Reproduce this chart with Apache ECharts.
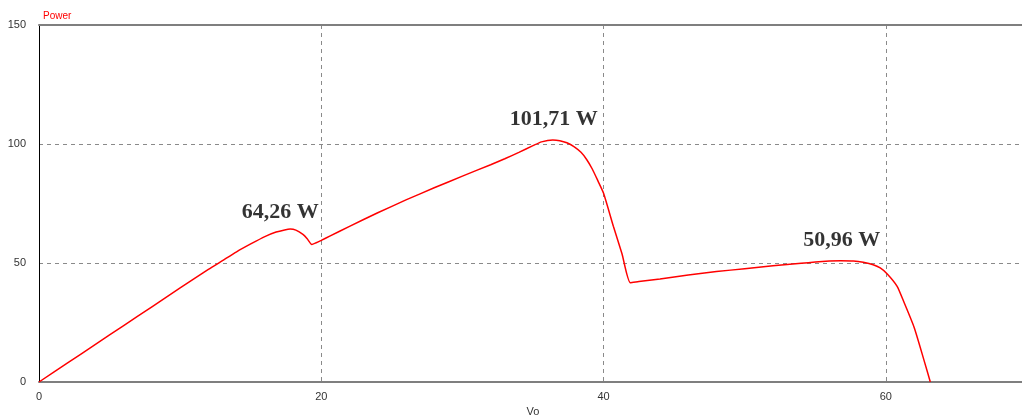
<!DOCTYPE html>
<html>
<head>
<meta charset="utf-8">
<script src="https://cdn.jsdelivr.net/npm/echarts@6/dist/echarts.min.js"></script>
<style>
  html, body { margin: 0; padding: 0; background: #fff; }
  #chart { width: 1022px; height: 416px; }
</style>
</head>
<body>
<div id="chart"></div>
<script>
// P-V curve of a partially shaded PV string (output voltage vs power)
const voltage = [0, 2, 4, 6, 8, 10, 12, 13, 14, 15, 16, 16.8, 17.4, 17.8, 18.2, 18.7, 19, 19.33, 19.6, 20, 20.6,
  22, 24, 26, 28, 30, 32, 33, 34, 35, 35.6, 36.4, 36.9, 37.4, 37.9, 38.4, 38.8, 39.2, 39.6, 40, 40.7, 41.3, 41.9,
  42.5, 44, 46, 48, 50, 52, 54, 55, 56, 56.8, 57.7, 58.4, 59.1, 59.6, 60.1, 60.8, 61.25, 62, 62.7, 63.15];
const power = [0, 7.9, 15.8, 23.7, 31.6, 39.5, 47.3, 51.0, 54.7, 58.0, 61.1, 63.0, 63.9, 64.26, 63.8, 62, 60.2, 57.8, 58.4, 59.5, 61.3,
  65.4, 71.1, 76.5, 81.6, 86.5, 91.3, 93.8, 96.5, 99.3, 100.9, 101.71, 101.4, 100.5, 98.9, 96.5, 93.5, 89.5, 84.5, 79.3, 65.3, 54, 41.7,
  42.2, 43.3, 45.0, 46.4, 47.6, 48.8, 49.9, 50.4, 50.8, 50.96, 50.85, 50.3, 49.3, 47.9, 45.4, 40.2, 34, 23, 9.2, 0];

// Local maxima annotated on the curve
const peakVoltage = [17.8, 36.4, 56.8];
const peakPower = [64.26, 101.71, 50.96];

const xTicks = [0, 20, 40, 60];
const yTicks = [0, 50, 100, 150];

const curve = voltage.map((v, i) => [v, power[i]]);
const labelShift = [[-10, 2], [1, -2], [1, -1]];
const peaks = peakVoltage.map((v, i) => ({
  value: [v, peakPower[i]],
  label: { offset: labelShift[i] }
}));

const chart = echarts.init(document.getElementById('chart'), null, { renderer: 'canvas' });

const gridLine = { show: true, lineStyle: { color: '#8a8a8a', width: 1, type: [4, 4] } };

chart.setOption({
  animation: false,
  backgroundColor: '#ffffff',
  title: {
    text: 'Power',
    left: 38,
    top: 6,
    textStyle: { color: '#ff0000', fontSize: 10, fontWeight: 'normal', fontFamily: 'Liberation Sans, Arial' }
  },
  grid: { left: 39, top: 25, bottom: 34, right: -5, outerBoundsMode: 'none', containLabel: false },
  xAxis: [{
    type: 'value',
    min: 0,
    max: 70,
    interval: 20,
    name: 'Vo',
    nameLocation: 'middle',
    nameGap: 21,
    nameTextStyle: { color: '#333', fontSize: 11, fontFamily: 'Liberation Sans, Arial' },
    axisLine: { show: true, lineStyle: { color: '#7f7f7f', width: 2 } },
    axisTick: { show: false },
    axisLabel: {
      color: '#333', fontSize: 11, margin: 9, fontFamily: 'Liberation Sans, Arial',
      showMaxLabel: false,
      formatter: v => (xTicks.includes(v) ? String(v) : '')
    },
    splitLine: gridLine
  }, {
    type: 'value',
    position: 'top',
    min: 0,
    max: 70,
    interval: 20,
    axisLine: { show: true, lineStyle: { color: '#7f7f7f', width: 2 } },
    axisTick: { show: false },
    axisLabel: { show: false },
    splitLine: { show: false }
  }],
  yAxis: {
    type: 'value',
    min: 0,
    max: 150,
    interval: 50,
    axisLine: { show: true, onZero: false, lineStyle: { color: '#000', width: 1 } },
    axisTick: { show: false },
    axisLabel: {
      color: '#333', fontSize: 11, margin: 13, fontFamily: 'Liberation Sans, Arial',
      formatter: v => (yTicks.includes(v) ? String(v) : '')
    },
    splitLine: gridLine
  },
  series: [{
    type: 'line',
    data: curve,
    showSymbol: false,
    smooth: 0.2,
    lineStyle: { color: '#ff0000', width: 1.5 },
    z: 3
  }, {
    type: 'scatter',
    data: peaks,
    symbolSize: 0,
    silent: true,
    label: {
      show: true,
      position: 'top',
      distance: 8,
      color: '#000',
      fontSize: 22,
      fontWeight: 'bold',
      fontFamily: 'Liberation Serif, Times New Roman, serif',
      formatter: p => p.value[1].toFixed(2).replace('.', ',') + ' W'
    },
    z: 4
  }]
});
</script>
</body>
</html>
